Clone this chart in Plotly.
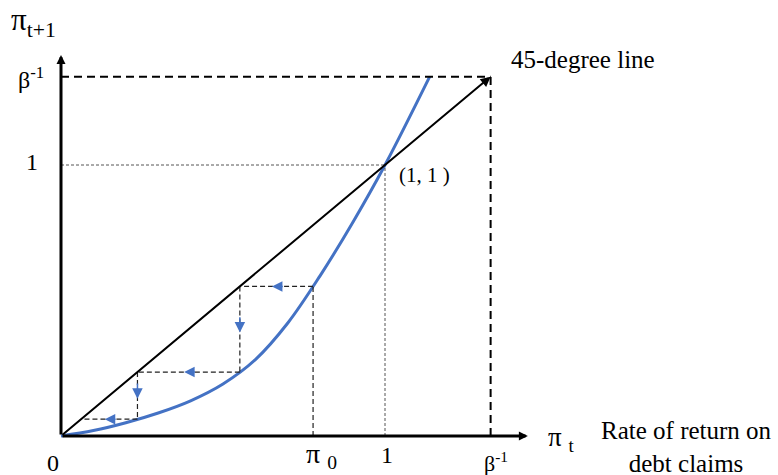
import plotly.graph_objects as go

# ---- data ----
BETA_INV = 1.326          # beta^-1 on both axes
PI0 = 0.778               # starting point pi_0
# convex mapping pi_{t+1} = f(pi_t)
curve_x = [0.0, 0.1, 0.2, 0.3, 0.4, 0.5, 0.6, 0.7, 0.8, 0.9, 1.0, 1.138]
curve_y = [0.0, 0.020, 0.049, 0.085, 0.130, 0.192, 0.282, 0.417, 0.592, 0.787, 1.0, 1.326]
# cobweb iterates pi_0, pi_1, pi_2, pi_3
cobweb = [0.778, 0.552, 0.236, 0.062]
x_axis_end = 1.441
y_axis_end = 1.406

W, H = 778, 475
X0PX, XSCALE = 61, 324
Y0PX, YSCALE = 436, 271
x_range = [-X0PX / XSCALE, (W - X0PX) / XSCALE]
y_range = [-(H - Y0PX) / YSCALE, Y0PX / YSCALE]

BLUE = "#4472C4"
FONT = "Liberation Serif"

fig = go.Figure()

# blue curve
fig.add_trace(go.Scatter(x=curve_x, y=curve_y, mode="lines",
                         line=dict(color=BLUE, width=3, shape="spline", smoothing=1),
                         hoverinfo="skip", showlegend=False))

shapes = []
# beta^-1 dashed box
shapes.append(dict(type="line", x0=0, y0=BETA_INV, x1=BETA_INV, y1=BETA_INV,
                   line=dict(color="black", width=2, dash="8px,5px")))
shapes.append(dict(type="line", x0=BETA_INV, y0=0, x1=BETA_INV, y1=BETA_INV,
                   line=dict(color="black", width=2, dash="8px,5px")))
# (1,1) dotted guides
shapes.append(dict(type="line", x0=0, y0=1, x1=1, y1=1,
                   line=dict(color="#555", width=1, dash="3px,2px")))
shapes.append(dict(type="line", x0=1, y0=0, x1=1, y1=1,
                   line=dict(color="#555", width=1, dash="3px,2px")))
# cobweb
shapes.append(dict(type="line", x0=cobweb[0], y0=0, x1=cobweb[0], y1=cobweb[1],
                   line=dict(color="#222", width=1.2, dash="5px,3px")))
for i in range(len(cobweb) - 1):
    a, b = cobweb[i], cobweb[i + 1]
    shapes.append(dict(type="line", x0=a, y0=b, x1=b, y1=b,
                       line=dict(color="#222", width=1.2, dash="5px,3px")))
    if i + 2 < len(cobweb):
        c = cobweb[i + 2]
        shapes.append(dict(type="line", x0=b, y0=b, x1=b, y1=c,
                           line=dict(color="#222", width=1.2, dash="5px,3px")))

annotations = []
# axes with arrows
annotations.append(dict(x=x_axis_end, y=0, ax=0, ay=0, xref="x", yref="y", axref="x", ayref="y",
                        text="", showarrow=True, arrowhead=2, arrowsize=0.6, arrowwidth=3,
                        arrowcolor="black", standoff=0, startstandoff=0))
annotations.append(dict(x=0, y=y_axis_end, ax=0, ay=0, xref="x", yref="y", axref="x", ayref="y",
                        text="", showarrow=True, arrowhead=2, arrowsize=0.6, arrowwidth=3,
                        arrowcolor="black", standoff=0, startstandoff=0))
# 45-degree line
annotations.append(dict(x=BETA_INV, y=BETA_INV, ax=0, ay=0, xref="x", yref="y", axref="x", ayref="y",
                        text="", showarrow=True, arrowhead=2, arrowsize=1.0, arrowwidth=2,
                        arrowcolor="black", standoff=0))
# blue cobweb arrows
for i in range(len(cobweb) - 1):
    a, b = cobweb[i], cobweb[i + 1]
    mid = (a + b) / 2
    annotations.append(dict(x=mid - 0.014, y=b, ax=mid + 0.024, ay=b, xref="x", yref="y",
                            axref="x", ayref="y", text="", showarrow=True, arrowhead=2,
                            arrowsize=1.4, arrowwidth=1.5, arrowcolor=BLUE, standoff=0))
    if i + 2 < len(cobweb):
        c = cobweb[i + 2]
        midv = (b + c) / 2
        annotations.append(dict(x=b, y=midv - 0.012, ax=b, ay=midv + 0.05, xref="x", yref="y",
                                axref="x", ayref="y", text="", showarrow=True, arrowhead=2,
                                arrowsize=1.4, arrowwidth=1.5, arrowcolor=BLUE, standoff=0))


def P(xp, yp):
    return xp / W, 1 - yp / H


def label(text, xp, yp, size=24, xanchor="center", yanchor="middle", align="center"):
    x, y = P(xp, yp)
    annotations.append(dict(x=x, y=y, xref="paper", yref="paper", text=text, showarrow=False,
                            xanchor=xanchor, yanchor=yanchor, align=align,
                            font=dict(family=FONT, size=size, color="black")))


label("π<sub>t+1</sub>", 9, 22, size=31, xanchor="left")
label("β<sup>-1</sup>", 16, 78, size=24, xanchor="left")
label("1", 32, 162, size=24)
label("0", 53, 463, size=24)
label("π <sub>0</sub>", 304, 455, size=28, xanchor="left")
label("1", 387, 455, size=24)
label("β<sup>-1</sup>", 482, 462, size=22, xanchor="left")
label("π <sub>t</sub>", 546, 439, size=27, xanchor="left")
label("Rate of return on<br>debt claims", 686, 447, size=25)
label("45-degree line", 509, 60, size=25, xanchor="left")
label("(1, 1 )", 397, 175, size=21, xanchor="left")

fig.update_layout(
    width=W, height=H,
    margin=dict(l=0, r=0, t=0, b=0, pad=0),
    paper_bgcolor="white", plot_bgcolor="white",
    xaxis=dict(range=x_range, visible=False, fixedrange=True),
    yaxis=dict(range=y_range, visible=False, fixedrange=True),
    shapes=shapes, annotations=annotations, showlegend=False,
)

fig.write_html("out.html", config={"displayModeBar": False},
               post_script="document.body.style.margin='0';document.body.style.overflow='hidden';")
